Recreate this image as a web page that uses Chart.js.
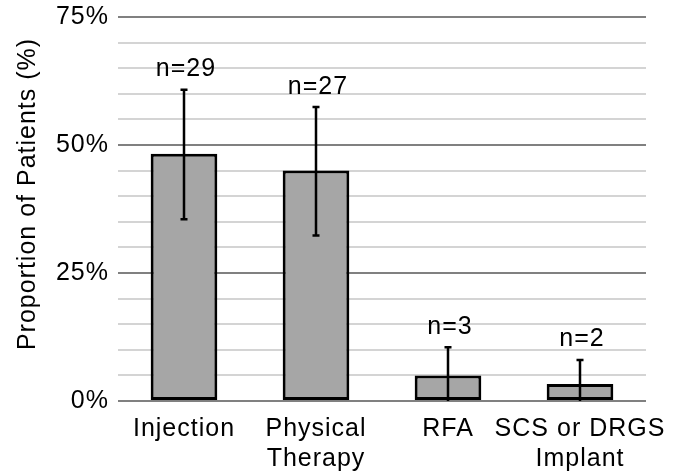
<!DOCTYPE html>
<html>
<head>
<meta charset="utf-8">
<script src="https://cdn.jsdelivr.net/npm/chart.js@4.4.1/dist/chart.umd.min.js"></script>
<style>
  html, body { margin: 0; padding: 0; background: #ffffff; }
  #wrap { width: 689px; height: 476px; }
</style>
</head>
<body>
<div id="wrap"><canvas id="c" width="689" height="476"></canvas></div>
<script>
// ---- data ----
const categories = ["Injection", ["Physical", "Therapy"], "RFA", ["SCS or DRGS", "Implant"]];
const proportions = [48.3, 45.0, 5.0, 3.3];
const ciHigh = [60.8, 57.4, 10.5, 8.0];
const ciLow = [35.5, 32.3, -0.5, -1.2];
const nLabels = ["n=29", "n=27", "n=3", "n=2"];
const majorTicks = [0, 25, 50, 75];
const yTitle = "Proportion of Patients (%)";

const FONT = "'Liberation Sans', Arial, Helvetica, sans-serif";
const FSIZE = 25;
const SPACING = '1px';

const spacingPlugin = {
  id: 'spacing',
  beforeLayout(chart) { chart.ctx.letterSpacing = SPACING; },
  beforeDraw(chart) { chart.ctx.letterSpacing = SPACING; }
};

const errorBarPlugin = {
  id: 'errorBars',
  afterDatasetsDraw(chart) {
    const ctx = chart.ctx;
    const meta = chart.getDatasetMeta(0);
    const y = chart.scales.y;
    const area = chart.chartArea;
    ctx.save();
    ctx.beginPath();
    ctx.rect(area.left, area.top - 5, area.right - area.left, area.bottom - area.top + 5);
    ctx.clip();
    ctx.strokeStyle = '#000000';
    ctx.lineWidth = 2.5;
    meta.data.forEach((bar, i) => {
      const x = bar.x;
      const yh = y.getPixelForValue(ciHigh[i]);
      const yl = y.getPixelForValue(ciLow[i]);
      ctx.beginPath();
      ctx.moveTo(x, yh);
      ctx.lineTo(x, yl);
      ctx.moveTo(x - 3.5, yh);
      ctx.lineTo(x + 3.5, yh);
      ctx.moveTo(x - 3.5, yl);
      ctx.lineTo(x + 3.5, yl);
      ctx.stroke();
    });
    ctx.restore();

    // n labels
    ctx.save();
    ctx.letterSpacing = SPACING;
    ctx.fillStyle = '#000000';
    ctx.font = FSIZE + 'px ' + FONT;
    ctx.textAlign = 'center';
    ctx.textBaseline = 'middle';
    meta.data.forEach((bar, i) => {
      const yh = y.getPixelForValue(ciHigh[i]);
      ctx.fillText(nLabels[i], bar.x + 2, yh - 20.5);
    });
    ctx.restore();

    // y axis title
    ctx.save();
    ctx.letterSpacing = SPACING;
    ctx.fillStyle = '#000000';
    ctx.font = FSIZE + 'px ' + FONT;
    ctx.textAlign = 'center';
    ctx.textBaseline = 'middle';
    ctx.translate(28, 194);
    ctx.rotate(-Math.PI / 2);
    ctx.fillText(yTitle, 0, 0);
    ctx.restore();
  }
};

new Chart(document.getElementById('c'), {
  type: 'bar',
  data: {
    labels: categories,
    datasets: [{
      data: proportions,
      backgroundColor: '#a6a6a6',
      borderColor: '#000000',
      borderWidth: 3,
      borderSkipped: false,
      categoryPercentage: 1.0,
      barPercentage: 0.505
    }]
  },
  options: {
    responsive: false,
    devicePixelRatio: 1,
    animation: false,
    layout: { padding: { top: 17, right: 43, bottom: 0, left: 0 } },
    plugins: {
      legend: { display: false },
      tooltip: { enabled: false },
      title: { display: false }
    },
    scales: {
      x: {
        grid: { display: false, drawTicks: false },
        border: { display: false },
        ticks: {
          color: '#000000',
          font: { family: FONT, size: FSIZE, lineHeight: 1.2 },
          padding: 13,
          maxRotation: 0,
          autoSkip: false
        },
        afterFit(scale) { scale.height = 75; scale.paddingLeft = 0; scale.paddingRight = 0; }
      },
      y: {
        min: 0,
        max: 75,
        border: { display: false },
        grid: {
          drawTicks: false,
          lineWidth: 2,
          color: (c) => (majorTicks.includes(c.tick.value) ? '#808080' : '#d4d4d4')
        },
        ticks: {
          stepSize: 5,
          autoSkip: false,
          color: '#000000',
          padding: 9,
          font: { family: FONT, size: FSIZE },
          callback: (v) => (majorTicks.includes(v) ? v + '%' : '')
        },
        afterFit(scale) { scale.width = 118; scale.paddingTop = 0; scale.paddingBottom = 0; }
      }
    }
  },
  plugins: [spacingPlugin, errorBarPlugin]
});
</script>
</body>
</html>
